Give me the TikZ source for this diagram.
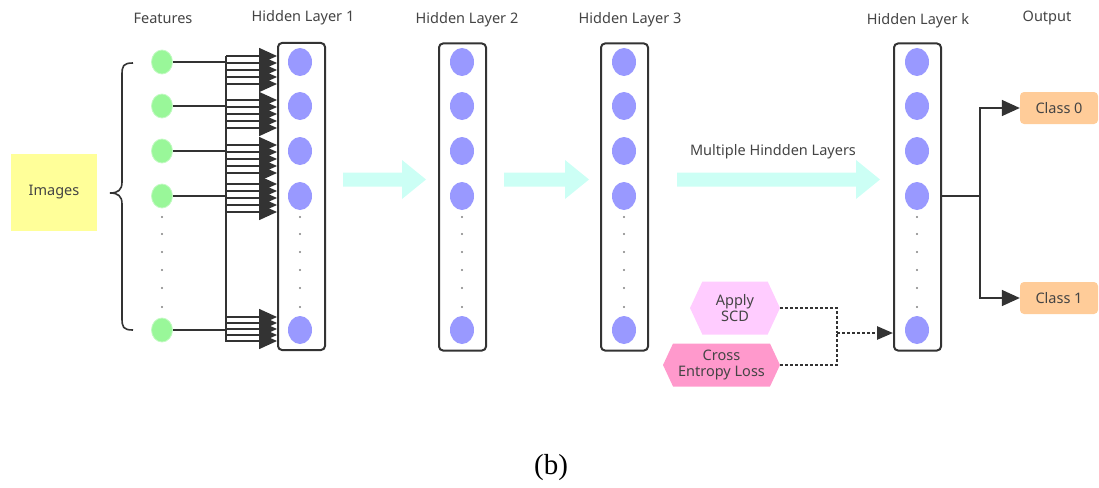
\documentclass[tikz,border=0pt]{standalone}
\usepackage{fontspec}
\setmainfont{Noto Sans}
\newfontfamily\capfont{Liberation Serif}
\usetikzlibrary{arrows.meta,shapes.symbols,shapes.geometric,calc}

\definecolor{ink}{HTML}{333333}
\definecolor{txt}{HTML}{444444}
\definecolor{featfill}{HTML}{99F799}
\definecolor{neurfill}{HTML}{9999FF}
\definecolor{flowfill}{HTML}{CCFFF5}
\definecolor{imgfill}{HTML}{FFFF99}
\definecolor{classfill}{HTML}{FFCC99}
\definecolor{scdfill}{HTML}{FFCCFF}
\definecolor{lossfill}{HTML}{FF99CC}

\tikzset{
  lbl/.style={font=\fontsize{14.5}{16}\selectfont, text=txt},
  feat/.style={ellipse, fill=featfill, draw=featfill!60!white, line width=0.8pt, minimum width=21pt, minimum height=24pt, inner sep=0pt},
  neur/.style={ellipse, fill=neurfill, minimum width=24pt, minimum height=28pt, inner sep=0pt},
  layerbox/.style={draw=ink, line width=2pt, rounded corners=4pt, minimum width=47pt, minimum height=307pt, inner sep=0pt},
  vdot/.style={circle, fill=gray, inner sep=0pt, minimum size=2.4pt},
  wire/.style={draw=ink, line width=1.6pt},
  arr/.style={wire, -{Triangle[length=18pt,width=16pt]}},
  flow/.style={fill=flowfill},
  classbox/.style={fill=classfill, rounded corners=4pt, minimum width=78pt, minimum height=32pt, inner sep=0pt, font=\fontsize{14.5}{16}\selectfont, text=txt},
  hexbox/.style={signal, signal to=east and west, signal pointer angle=130, inner sep=1pt, align=center, font=\fontsize{14.5}{15.5}\selectfont, text=txt},
  dotline/.style={draw=ink, line width=2.6pt, dash pattern=on 2.6pt off 2.4pt}
}

\begin{document}
\begin{tikzpicture}[x=1pt, y=-1pt]
\useasboundingbox (0,0) rectangle (1099,487);

% column headings
\node[lbl] (hf)  at (163,18) {Features};
\node[lbl] (h1)  at (303,18) {Hidden Layer 1};
\node[lbl] (h2)  at (467,20) {Hidden Layer 2};
\node[lbl] (h3)  at (630,20) {Hidden Layer 3};
\node[lbl] (hk)  at (918,21) {Hidden Layer k};
\node[lbl] (hout) at (1047,18) {Output};

% input block and brace
\node[fill=imgfill, minimum width=86pt, minimum height=77pt, lbl] (img) at (54,192) {Images};
\draw[ink, line width=1.6pt] (133,63) .. controls (123,63) and (122,66) .. (122,75) -- (122,182)
  .. controls (122,190) and (118,193) .. (110,193)
  .. controls (118,193) and (122,196) .. (122,204) -- (122,318)
  .. controls (122,327) and (123,330) .. (133,330);

% layer boxes
\node[layerbox] (L1) at (301.5,196.5) {};
\node[layerbox] (L2) at (462.5,197) {};
\node[layerbox] (L3) at (624.5,197) {};
\node[layerbox] (Lk) at (917.5,197) {};

% input features
\foreach \r/\y in {1/62, 2/106, 3/151, 4/196, 5/330}
  \node[feat] (f\r) at (162,\y) {};

% neurons of each hidden layer
\foreach \col/\x in {a/300, b/462, c/624, k/917}
  \foreach \r/\y in {1/62, 2/106, 3/151, 4/196, 5/330}
    \node[neur] (\col\r) at (\x,\y) {};

% vertical ellipsis dots
\foreach \x in {162, 300, 462, 624, 917}
  \foreach \y in {217,234,252,270,288,307}
    \node[vdot] at (\x,\y) {};

% fully connected input wiring through a common bus
\coordinate (busT) at (226,56);
\coordinate (busB) at (226,342);
\draw[wire] (busT) -- (busB);
\foreach \r in {1,...,5}
  \draw[wire] (f\r.east) -- (f\r.east -| busT);
\foreach \r in {1,2,3}
  \foreach \d in {-6,1,8,15,22}
    \draw[arr] ($(a\r -| busT)+(0,\d)$) -- ($(a\r -| L1.west)+(0,\d)$);
\foreach \d in {-12,-5,2,9,16}
  \draw[arr] ($(a4 -| busT)+(0,\d)$) -- ($(a4 -| L1.west)+(0,\d)$);
\foreach \d in {-13,-7,-1,5,11}
  \draw[arr] ($(a5 -| busT)+(0,\d)$) -- ($(a5 -| L1.west)+(0,\d)$);

% broad flow arrows between layers
\fill[flow] (343,172.5) -- (402,172.5) -- (402,160) -- (426,179.5) -- (402,199) -- (402,186.5) -- (343,186.5) -- cycle;
\fill[flow] (504,172.5) -- (565,172.5) -- (565,160) -- (589,179.5) -- (565,199) -- (565,186.5) -- (504,186.5) -- cycle;
\fill[flow] (677,172.5) -- (856,172.5) -- (856,160) -- (880,179.5) -- (856,199) -- (856,186.5) -- (677,186.5) -- cycle;
\node[lbl] (multi) at (773,152) {Multiple Hindden Layers};

% outputs
\node[classbox] (c0) at (1059,108) {Class 0};
\node[classbox] (c1) at (1059,298) {Class 1};
\coordinate (split) at (980,196);
\draw[wire] (Lk.east |- split) -- (split);
\draw[arr] (split) |- (c0.west);
\draw[arr] (split) |- (c1.west);

% training signals
\node[hexbox, fill=scdfill, minimum width=90pt, minimum height=53pt] (scd) at (735,308) {Apply\\SCD};
\node[hexbox, fill=lossfill, minimum width=117pt, minimum height=43pt] (loss) at (721.5,365) {Cross\\Entropy Loss};
\coordinate (merge) at (837,333);
\draw[dotline] (scd.east) -| (merge);
\draw[dotline] (loss.east) -| (merge);
\draw[dotline, -{Triangle[length=16pt,width=13pt]}] (merge) -- (merge -| Lk.west);

% caption
\node[font=\capfont\fontsize{29}{32}\selectfont] (cap) at (551,468) {(b)};
\end{tikzpicture}
\end{document}
